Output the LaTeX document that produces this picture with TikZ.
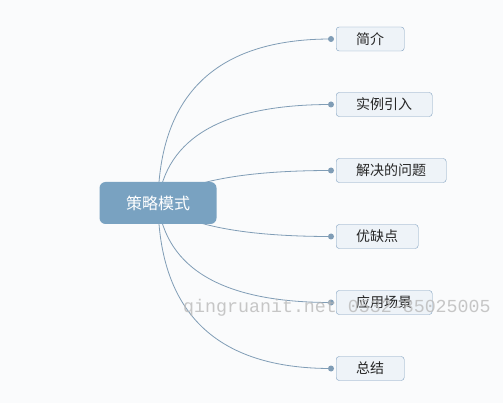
\documentclass[tikz,border=0pt]{standalone}
\usepackage{fontspec}
\newfontfamily\cjk{Noto Sans CJK SC}
\newfontfamily\markfont{Liberation Mono}
\usetikzlibrary{shapes,calc,backgrounds}

\definecolor{topicBlue}{HTML}{79A2C1}
\definecolor{subFill}{HTML}{EEF3F8}
\definecolor{subLine}{HTML}{7E9FBF}
\definecolor{branchLine}{HTML}{809DB6}
\definecolor{paper}{HTML}{FAFBFC}

\tikzset{
  topic/.style={rectangle, rounded corners=6pt, fill=topicBlue, text=white,
    minimum width=117pt, minimum height=42pt, font=\cjk\fontsize{16}{16}\selectfont},
  subtopic/.style={rectangle, rounded corners=3pt, draw=subLine, fill=subFill,
    text=black!85, minimum height=24pt, inner xsep=20pt, anchor=west,
    font=\cjk\fontsize{14}{14}\selectfont},
  branch/.style={draw=branchLine, line width=0.8pt},
  knob/.style={circle, fill=branchLine, inner sep=0pt, minimum size=6pt},
  watermark/.style={text=gray!55, opacity=0.8, inner sep=0pt, anchor=base west,
    font=\markfont\fontsize{18.3}{18.3}\selectfont}
}

% quadratic branch from #1 to #2 bent towards #3
\newcommand{\branchto}[3]{%
  \draw[branch] (#1) .. controls ($(#1)!2/3!(#3)$) and ($(#2)!2/3!(#3)$) .. (#2);}

\begin{document}
\begin{tikzpicture}[x=1pt,y=-1pt]
  \useasboundingbox (0,0) rectangle (503,403);

  \node[topic] (strategyNode) at (158,203) {策略模式};

  \node[subtopic] (introNode)    at (336,39)    {简介};
  \node[subtopic] (exampleNode)  at (336,104.5) {实例引入};
  \node[subtopic] (problemNode)  at (336,170.5) {解决的问题};
  \node[subtopic] (prosNode)     at (336,236.5) {优缺点};
  \node[subtopic] (sceneNode)    at (336,302.5) {应用场景};
  \node[subtopic] (summaryNode)  at (336,368.5) {总结};

  \node[knob] (introKnob)   at (331,39)    {};
  \node[knob] (exampleKnob) at (331,104.5) {};
  \node[knob] (problemKnob) at (331,170.5) {};
  \node[knob] (prosKnob)    at (331,236.5) {};
  \node[knob] (sceneKnob)   at (331,302.5) {};
  \node[knob] (summaryKnob) at (331,368.5) {};

  \begin{pgfonlayer}{background}
    \fill[paper] (0,0) rectangle (503,403);
    % branches leave the centre of the main topic
    \branchto{strategyNode.center}{introKnob.center}{160,39}
    \branchto{strategyNode.center}{exampleKnob.center}{170,104.5}
    \branchto{strategyNode.center}{problemKnob.center}{200,170.5}
    \branchto{strategyNode.center}{prosKnob.center}{200,236.5}
    \branchto{strategyNode.center}{sceneKnob.center}{170,302.5}
    \branchto{strategyNode.center}{summaryKnob.center}{160,368.5}
  \end{pgfonlayer}

  \node[watermark] (markText) at (183,312) {qingruanit.net 0532-85025005};
\end{tikzpicture}
\end{document}
